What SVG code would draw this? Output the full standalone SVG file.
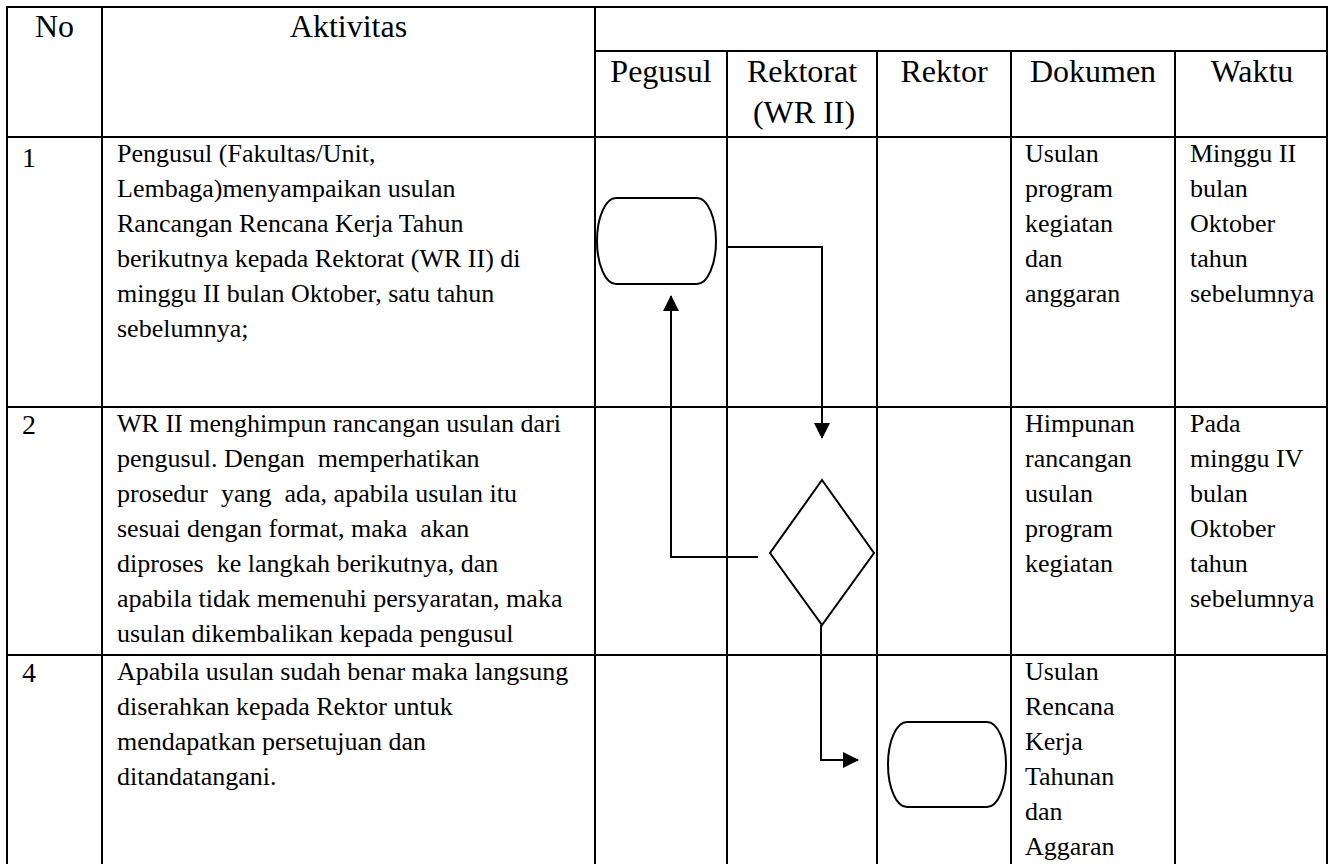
<svg xmlns="http://www.w3.org/2000/svg" width="1331" height="864" viewBox="0 0 1331 864">
<style>
.g{stroke:#000;stroke-width:2;fill:none}
.s{stroke:#000;stroke-width:2;fill:#fff}
.c{stroke:#000;stroke-width:2;fill:none}
.h{font-family:"Liberation Serif","Times New Roman",serif;font-size:32px;fill:#000;text-anchor:middle}
.n{font-family:"Liberation Serif","Times New Roman",serif;font-size:28px;fill:#000}
.t{font-family:"Liberation Serif","Times New Roman",serif;font-size:26px;fill:#000;white-space:pre}
</style>
<defs>
<marker id="ah" markerWidth="16" markerHeight="16" refX="15" refY="8" orient="auto" markerUnits="userSpaceOnUse">
<path d="M0,0 L16,8 L0,16 Z" fill="#000"/>
</marker>
</defs>
<rect width="1331" height="864" fill="#fff"/>
<g id="table" class="g">
<line x1="6" y1="7" x2="1328" y2="7"/>
<line x1="595" y1="51" x2="1328" y2="51"/>
<line x1="6" y1="137" x2="1328" y2="137"/>
<line x1="6" y1="407" x2="1328" y2="407"/>
<line x1="6" y1="655" x2="1328" y2="655"/>
<line x1="7" y1="7" x2="7" y2="864"/>
<line x1="102" y1="7" x2="102" y2="864"/>
<line x1="595" y1="7" x2="595" y2="864"/>
<line x1="727" y1="51" x2="727" y2="864"/>
<line x1="877" y1="51" x2="877" y2="864"/>
<line x1="1011" y1="51" x2="1011" y2="864"/>
<line x1="1175" y1="51" x2="1175" y2="864"/>
<line x1="1327" y1="7" x2="1327" y2="864"/>
</g>
<g id="headers">
<text class="h" x="54.5" y="37">No</text>
<text class="h" x="348.5" y="37">Aktivitas</text>
<text class="h" x="661" y="82">Pegusul</text>
<text class="h" x="802" y="82">Rektorat</text>
<text class="h" x="804" y="123">(WR II)</text>
<text class="h" x="944" y="82">Rektor</text>
<text class="h" x="1093" y="82">Dokumen</text>
<text class="h" x="1252" y="82">Waktu</text>
</g>
<g id="row1">
<text class="n" x="22" y="167">1</text>
<text class="t" x="117" y="162">Pengusul (Fakultas/Unit,</text>
<text class="t" x="117" y="197">Lembaga)menyampaikan usulan</text>
<text class="t" x="117" y="232">Rancangan Rencana Kerja Tahun</text>
<text class="t" x="117" y="267">berikutnya kepada Rektorat (WR II) di</text>
<text class="t" x="117" y="302">minggu II bulan Oktober, satu tahun</text>
<text class="t" x="117" y="337">sebelumnya;</text>
<text class="t" x="1025" y="162">Usulan</text>
<text class="t" x="1025" y="197">program</text>
<text class="t" x="1025" y="232">kegiatan</text>
<text class="t" x="1025" y="267">dan</text>
<text class="t" x="1025" y="302">anggaran</text>
<text class="t" x="1190" y="162">Minggu II</text>
<text class="t" x="1190" y="197">bulan</text>
<text class="t" x="1190" y="232">Oktober</text>
<text class="t" x="1190" y="267">tahun</text>
<text class="t" x="1190" y="302">sebelumnya</text>
</g>
<g id="row2">
<text class="n" x="22" y="434">2</text>
<text class="t" x="117" y="432">WR II menghimpun rancangan usulan dari</text>
<text class="t" x="117" y="467">pengusul. Dengan  memperhatikan</text>
<text class="t" x="117" y="502">prosedur  yang  ada, apabila usulan itu</text>
<text class="t" x="117" y="537">sesuai dengan format, maka  akan</text>
<text class="t" x="117" y="572">diproses  ke langkah berikutnya, dan</text>
<text class="t" x="117" y="607">apabila tidak memenuhi persyaratan, maka</text>
<text class="t" x="117" y="642">usulan dikembalikan kepada pengusul</text>
<text class="t" x="1025" y="432">Himpunan</text>
<text class="t" x="1025" y="467">rancangan</text>
<text class="t" x="1025" y="502">usulan</text>
<text class="t" x="1025" y="537">program</text>
<text class="t" x="1025" y="572">kegiatan</text>
<text class="t" x="1190" y="432">Pada</text>
<text class="t" x="1190" y="467">minggu IV</text>
<text class="t" x="1190" y="502">bulan</text>
<text class="t" x="1190" y="537">Oktober</text>
<text class="t" x="1190" y="572">tahun</text>
<text class="t" x="1190" y="607">sebelumnya</text>
</g>
<g id="row4">
<text class="n" x="22" y="682">4</text>
<text class="t" x="117" y="680">Apabila usulan sudah benar maka langsung</text>
<text class="t" x="117" y="715">diserahkan kepada Rektor untuk</text>
<text class="t" x="117" y="750">mendapatkan persetujuan dan</text>
<text class="t" x="117" y="785">ditandatangani.</text>
<text class="t" x="1025" y="680">Usulan</text>
<text class="t" x="1025" y="715">Rencana</text>
<text class="t" x="1025" y="750">Kerja</text>
<text class="t" x="1025" y="785">Tahunan</text>
<text class="t" x="1025" y="820">dan</text>
<text class="t" x="1025" y="855">Aggaran</text>
</g>
<g id="start-pengusul">
<rect class="s" x="597" y="198" width="119" height="86" rx="19" ry="43"/>
</g>
<g id="decision-wr2">
<polygon class="s" points="822,480 874,553 822,625 770,553"/>
</g>
<g id="end-rektor">
<rect class="s" x="888" y="722" width="118" height="85" rx="19" ry="42.5"/>
</g>
<g id="connectors">
<path class="c" d="M727,247 H822 V438" marker-end="url(#ah)"/>
<path class="c" d="M758,557 H671 V296" marker-end="url(#ah)"/>
<path class="c" d="M821,625 V760 H858" marker-end="url(#ah)"/>
</g>
</svg>
